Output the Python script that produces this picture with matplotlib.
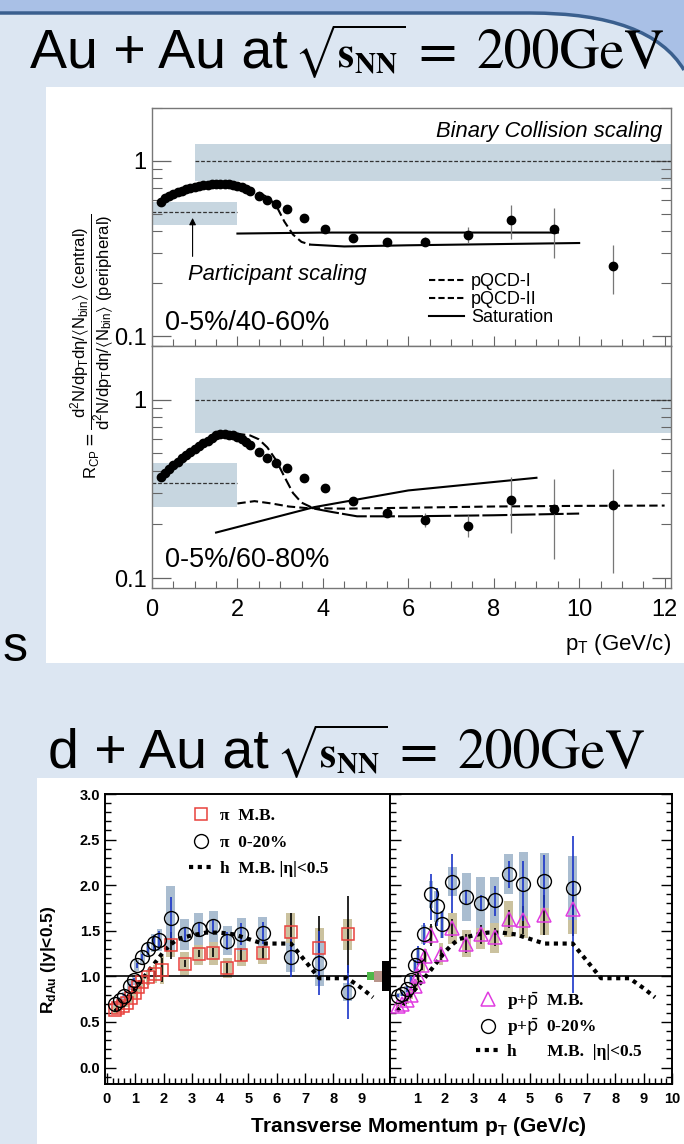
import matplotlib.pyplot as plt
from matplotlib.patches import Rectangle, PathPatch
from matplotlib.path import Path
from matplotlib.lines import Line2D
from matplotlib.ticker import MultipleLocator, FixedLocator, NullFormatter

W, H = 684, 1144

# ---------------- Au+Au R_CP (top figure) ----------------
# 0-5% / 40-60%
cp_mid_pt = [0.2, 0.3, 0.4, 0.5, 0.6, 0.7, 0.8, 0.9, 1.0, 1.1, 1.2, 1.3, 1.4, 1.5, 1.6,
             1.7, 1.8, 1.9, 2.0, 2.1, 2.2, 2.3, 2.5, 2.7, 2.9, 3.15, 3.55, 4.05, 4.7,
             5.5, 6.4, 7.4, 8.4, 9.4, 10.8]
cp_mid_r = [0.58, 0.61, 0.63, 0.645, 0.66, 0.675, 0.69, 0.70, 0.71, 0.72, 0.725, 0.73,
            0.735, 0.74, 0.74, 0.74, 0.735, 0.73, 0.72, 0.71, 0.69, 0.67, 0.63, 0.60,
            0.565, 0.53, 0.47, 0.41, 0.365, 0.346, 0.346, 0.378, 0.46, 0.41, 0.253]
cp_mid_err = [0] * 22 + [0, 0, 0, 0, 0, 0, 0.01, 0.01, 0.02, 0.04, 0.10, 0.13, 0.08]

# 0-5% / 60-80%
cp_per_pt = cp_mid_pt
cp_per_r = [0.37, 0.39, 0.41, 0.43, 0.45, 0.47, 0.49, 0.51, 0.53, 0.55, 0.57, 0.59,
            0.61, 0.63, 0.64, 0.64, 0.635, 0.63, 0.62, 0.60, 0.58, 0.56, 0.51, 0.47,
            0.44, 0.415, 0.364, 0.319, 0.271, 0.232, 0.213, 0.197, 0.273, 0.243, 0.257]
cp_per_err = [0] * 22 + [0, 0, 0, 0, 0, 0, 0.01, 0.01, 0.02, 0.028, 0.095, 0.115, 0.15]

# model curves, 40-60%
sat_mid_pt = [2.0, 4.0, 6.0, 8.0, 9.5]
sat_mid_r = [0.385, 0.39, 0.39, 0.39, 0.39]
pqcd_mid_pt = [2.5, 2.7, 2.9, 3.1, 3.3, 3.5, 3.7]
pqcd_mid_r = [0.66, 0.62, 0.56, 0.45, 0.38, 0.345, 0.333]
pqcd_mid_tail_pt = [3.7, 4.5, 6.0, 8.0, 10.0]
pqcd_mid_tail_r = [0.333, 0.325, 0.33, 0.335, 0.34]

# model curves, 60-80%
pqcd1_pt = [1.6, 2.0, 2.3, 2.5, 2.7, 2.9, 3.1, 3.3, 3.5, 3.8]
pqcd1_r = [0.64, 0.645, 0.63, 0.60, 0.54, 0.46, 0.37, 0.30, 0.265, 0.245]
pqcd1_tail_pt = [3.8, 4.2, 4.8, 6.0, 8.0, 10.0]
pqcd1_tail_r = [0.245, 0.235, 0.222, 0.222, 0.225, 0.23]
pqcd2_pt = [2.0, 2.4, 2.8, 3.2, 3.6, 4.5, 6.0, 8.0, 10.0, 12.0]
pqcd2_r = [0.262, 0.27, 0.262, 0.252, 0.247, 0.245, 0.248, 0.252, 0.254, 0.255]
sat_per_pt = [1.5, 3.8, 6.0, 9.0]
sat_per_r = [0.18, 0.25, 0.31, 0.365]

# scaling bands: (x0, x1, low, line, high)
binary_mid = (1.0, 12.15, 0.77, 1.0, 1.25)
part_mid = (0.0, 2.0, 0.43, 0.51, 0.58)
binary_per = (1.0, 12.15, 0.65, 1.0, 1.33)
part_per = (0.0, 2.0, 0.25, 0.34, 0.44)

# ---------------- d+Au R_dAu (bottom figure) ----------------
pi_mb_pt = [0.3, 0.4, 0.55, 0.7, 0.85, 1.0, 1.1, 1.25, 1.45, 1.7, 1.95, 2.25, 2.75,
            3.25, 3.75, 4.25, 4.75, 5.5, 6.5, 7.5, 8.5]
pi_mb_r = [0.63, 0.65, 0.67, 0.71, 0.76, 0.82, 0.88, 0.94, 0.99, 1.03, 1.07, 1.34,
           1.14, 1.25, 1.26, 1.09, 1.24, 1.26, 1.49, 1.31, 1.46]
pi_mb_err = [0.01, 0.01, 0.01, 0.01, 0.01, 0.01, 0.01, 0.02, 0.02, 0.03, 0.13, 0.15,
             0.04, 0.04, 0.05, 0.06, 0.07, 0.07, 0.21, 0.35, 0.42]
pi_mb_sys = [0.04, 0.04, 0.04, 0.05, 0.05, 0.06, 0.06, 0.07, 0.08, 0.10, 0.15, 0.13,
             0.13, 0.13, 0.14, 0.11, 0.13, 0.12, 0.20, 0.22, 0.17]

pi_c_pt = [0.3, 0.45, 0.6, 0.8, 0.95, 1.05, 1.25, 1.45, 1.65, 1.85, 2.25, 2.75, 3.25,
           3.75, 4.25, 4.75, 5.5, 6.5, 7.5, 8.5]
pi_c_r = [0.70, 0.74, 0.79, 0.90, 0.96, 1.12, 1.21, 1.30, 1.37, 1.40, 1.64, 1.46, 1.52,
          1.55, 1.39, 1.46, 1.48, 1.21, 1.15, 0.83]
pi_c_err = [0.01, 0.01, 0.01, 0.02, 0.02, 0.03, 0.04, 0.06, 0.08, 0.10, 0.23, 0.08,
            0.08, 0.08, 0.10, 0.12, 0.12, 0.22, 0.35, 0.30]
pi_c_sys = [0.03, 0.03, 0.04, 0.05, 0.05, 0.06, 0.07, 0.08, 0.10, 0.12, 0.35, 0.17,
            0.18, 0.17, 0.16, 0.18, 0.17, 0.16, 0.25, 0.10]

h_pt = [0.3, 0.5, 0.75, 1.0, 1.25, 1.5, 1.75, 2.0, 2.25, 2.5, 3.0, 3.5, 4.0, 4.5, 5.0,
        5.5, 6.0, 6.5, 7.0, 7.5, 8.0, 8.5, 9.0, 9.4]
h_r = [0.62, 0.68, 0.78, 0.88, 0.97, 1.07, 1.17, 1.27, 1.35, 1.41, 1.45, 1.48, 1.48,
       1.46, 1.41, 1.36, 1.36, 1.36, 1.17, 0.98, 0.98, 0.98, 0.87, 0.77]

pp_mb_pt = [0.35, 0.5, 0.65, 0.8, 0.95, 1.05, 1.2, 1.3, 1.5, 1.85, 2.25, 2.75, 3.25,
            3.75, 4.25, 4.75, 5.5, 6.5]
pp_mb_r = [0.68, 0.70, 0.74, 0.80, 0.90, 1.00, 1.12, 1.22, 1.45, 1.25, 1.53, 1.36,
           1.46, 1.43, 1.63, 1.62, 1.67, 1.74]
pp_mb_err = [0.01, 0.01, 0.02, 0.02, 0.03, 0.04, 0.05, 0.07, 0.12, 0.07, 0.10, 0.10,
             0.10, 0.10, 0.10, 0.15, 0.22, 0.30]
pp_mb_sys = [0.03, 0.03, 0.04, 0.05, 0.05, 0.06, 0.07, 0.08, 0.10, 0.12, 0.17, 0.15,
             0.16, 0.17, 0.20, 0.20, 0.22, 0.27]

pp_c_pt = [0.35, 0.5, 0.65, 0.8, 0.95, 1.05, 1.25, 1.5, 1.7, 1.9, 2.25, 2.75, 3.25,
           3.75, 4.25, 4.75, 5.5, 6.5]
pp_c_r = [0.79, 0.81, 0.86, 0.96, 1.12, 1.23, 1.46, 1.90, 1.77, 1.57, 2.04, 1.87, 1.81,
          1.84, 2.12, 2.01, 2.05, 1.97]
pp_c_lo = [0.02, 0.02, 0.03, 0.04, 0.06, 0.10, 0.12, 0.28, 0.22, 0.15, 0.35, 0.08,
           0.08, 0.18, 0.15, 0.40, 0.30, 1.15]
pp_c_hi = [0.02, 0.02, 0.03, 0.04, 0.06, 0.10, 0.12, 0.22, 0.20, 0.15, 0.30, 0.08,
           0.08, 0.15, 0.15, 0.25, 0.28, 0.57]
pp_c_sys = [0.03, 0.03, 0.04, 0.05, 0.06, 0.08, 0.10, 0.15, 0.17, 0.15, 0.16, 0.26,
            0.28, 0.25, 0.22, 0.35, 0.30, 0.35]

SLIDE = '#dce6f2'
BAND = '#c7d6e0'
RED = '#e8413c'
MAGENTA = '#e03ce0'
BLUE = '#1a35c8'
BOX_BLUE = '#aabdd0'
BOX_TAN = '#cbc29f'


def fx(px):
    return px / W


def fy(py):
    return 1 - py / H


fig = plt.figure(figsize=(W / 100, H / 100), dpi=100, facecolor=SLIDE)
renderer = fig.canvas.get_renderer()


def fig_patch(p):
    p.set_zorder(-10)
    fig.patches.append(p)


# slide header: light strip and dark rule that bends down on the right
fig_patch(Rectangle((0, fy(12)), 1, 12 / H, transform=fig.transFigure,
                    facecolor='#a9c0e6', edgecolor='none'))
corner = Path([(fx(530), fy(12)), (fx(650), fy(12)), (fx(684), fy(70)),
               (fx(684), fy(0)), (fx(530), fy(0)), (fx(530), fy(12))],
              [Path.MOVETO, Path.CURVE3, Path.CURVE3, Path.LINETO, Path.LINETO,
               Path.CLOSEPOLY])
fig_patch(PathPatch(corner, transform=fig.transFigure, facecolor='#a9c0e6',
                    edgecolor='none'))
rule = Path([(0, fy(13)), (fx(530), fy(13)), (fx(650), fy(13)), (fx(684), fy(70))],
            [Path.MOVETO, Path.LINETO, Path.CURVE3, Path.CURVE3])
fig_patch(PathPatch(rule, transform=fig.transFigure, facecolor='none',
                    edgecolor='#3a5f8e', lw=2.5))

# white picture panels
fig_patch(Rectangle((fx(46), fy(663)), 1, (663 - 87) / H, transform=fig.transFigure,
                    facecolor='white', edgecolor='none'))
fig_patch(Rectangle((fx(37), 0), 1, (H - 778) / H, transform=fig.transFigure,
                    facecolor='white', edgecolor='none'))


def title_line(baseline, lead):
    # sans lead-in, then the serif sqrt(s_NN) = 200GeV part, centred as one line
    parts = [(lead, dict(family='Liberation Sans', fontsize=40), 7),
             (r'$\sqrt{\mathbf{s}_{\mathbf{NN}}}$', dict(fontsize=30, math_fontfamily='stix'), 12),
             ('=', dict(family='STIXGeneral', fontsize=40), 20),
             ('200GeV', dict(family='STIXGeneral', fontsize=40), 0)]
    texts, widths = [], []
    for s, kw, gap in parts:
        t = fig.text(0, fy(baseline), s, ha='left', va='baseline', **kw)
        texts.append(t)
        widths.append(t.get_window_extent(renderer).width)
    total = sum(widths) + sum(p[2] for p in parts)
    x = 347 - total / 2
    for t, w, p in zip(texts, widths, parts):
        t.set_x(fx(x))
        x += w + p[2]


title_line(68, 'Au + Au at')
title_line(768, 'd + Au at')
fig.text(fx(3), fy(648), 's', ha='left', va='center', fontsize=36,
         family='Liberation Sans')

# ---------------- top figure ----------------
ax_top = fig.add_axes([fx(152), fy(346), fx(671) - fx(152), (346 - 108) / H])
ax_bot = fig.add_axes([fx(152), fy(588), fx(671) - fx(152), (588 - 346) / H],
                      sharex=ax_top)


def style_rcp(ax):
    ax.set_yscale('log')
    ax.set_ylim(0.088, 2.0)
    ax.set_xlim(0, 12.15)
    ax.set_facecolor('white')
    for s in ax.spines.values():
        s.set_color('#777777')
        s.set_linewidth(1.0)
    ax.yaxis.set_major_locator(FixedLocator([0.1, 1]))
    ax.yaxis.set_minor_locator(FixedLocator([0.2, 0.3, 0.4, 0.5, 0.6, 0.7, 0.8, 0.9, 2]))
    ax.yaxis.set_major_formatter(plt.FuncFormatter(lambda v, p: '1' if v == 1 else '0.1'))
    ax.yaxis.set_minor_formatter(NullFormatter())
    ax.xaxis.set_major_locator(MultipleLocator(2))
    ax.xaxis.set_minor_locator(MultipleLocator(0.5))
    ax.tick_params(axis='y', which='both', direction='in', left=True, right=True,
                   color='#666666', labelsize=17, pad=4)
    ax.tick_params(axis='y', which='major', length=14, width=0.9)
    ax.tick_params(axis='y', which='minor', length=7, width=0.8)
    ax.tick_params(axis='x', which='both', direction='in', top=False, color='#666666',
                   labelsize=17, pad=8)
    ax.tick_params(axis='x', which='major', length=7, width=0.8)
    ax.tick_params(axis='x', which='minor', length=5, width=0.8)


def bands(ax, binary, part):
    for x0, x1, lo, mid, hi in (binary, part):
        ax.fill_between([x0, x1], [lo, lo], [hi, hi], color=BAND, lw=0, zorder=1)
        ax.plot([x0, x1], [mid, mid], color='#333333', lw=0.9, ls=(0, (3, 1.5)),
                zorder=2)


style_rcp(ax_top)
style_rcp(ax_bot)
bands(ax_top, binary_mid, part_mid)
bands(ax_bot, binary_per, part_per)
ax_top.tick_params(axis='x', labelbottom=False)

# 40-60% panel
ax_top.plot(sat_mid_pt, sat_mid_r, color='black', lw=1.5, zorder=3)
ax_top.plot(pqcd_mid_pt, pqcd_mid_r, color='black', lw=1.5, ls=(0, (4, 2)), zorder=3)
ax_top.plot(pqcd_mid_tail_pt, pqcd_mid_tail_r, color='black', lw=1.5, zorder=3)
ax_top.errorbar(cp_mid_pt, cp_mid_r, yerr=cp_mid_err, fmt='o', color='black', ms=6,
                ecolor='#777777', elinewidth=0.9, capsize=0, zorder=4)
ax_top.text(11.95, 1.47, 'Binary Collision scaling', ha='right', va='center',
            fontsize=15.8, style='italic', family='Liberation Sans')
ax_top.text(0.85, 0.225, 'Participant scaling', ha='left', va='center', fontsize=15.8,
            style='italic', family='Liberation Sans')
ax_top.annotate('', xy=(0.95, 0.49), xytext=(0.95, 0.275),
                arrowprops=dict(arrowstyle='-|>', lw=0.8, color='black',
                                mutation_scale=10))
ax_top.text(0.3, 0.119, '0-5%/40-60%', ha='left', va='center', fontsize=19.5,
            family='Liberation Sans')
leg_handles = [Line2D([], [], color='black', lw=1.5, ls=(0, (3, 1.5))),
               Line2D([], [], color='black', lw=1.5, ls=(0, (3, 1.5))),
               Line2D([], [], color='black', lw=1.5)]
ax_top.legend(leg_handles, ['pQCD-I', 'pQCD-II', 'Saturation'], loc='lower left',
              bbox_to_anchor=(0.51, 0.03), frameon=False, handlelength=1.9,
              handletextpad=0.4, labelspacing=0.05, borderaxespad=0.3,
              prop={'family': 'Liberation Sans', 'size': 13})

# 60-80% panel
ax_bot.plot(pqcd1_pt, pqcd1_r, color='black', lw=1.5, ls=(0, (5, 2)), zorder=3)
ax_bot.plot(pqcd1_tail_pt, pqcd1_tail_r, color='black', lw=1.5, ls=(0, (12, 1.5)),
            zorder=3)
ax_bot.plot(pqcd2_pt, pqcd2_r, color='black', lw=1.5, ls=(0, (4, 2)), zorder=3)
ax_bot.plot(sat_per_pt, sat_per_r, color='black', lw=1.5, zorder=3)
ax_bot.errorbar(cp_per_pt, cp_per_r, yerr=cp_per_err, fmt='o', color='black', ms=6,
                ecolor='#777777', elinewidth=0.9, capsize=0, zorder=4)
ax_bot.text(0.3, 0.126, '0-5%/60-80%', ha='left', va='center', fontsize=19.5,
            family='Liberation Sans')
ax_bot.set_xlabel(r'p$_\mathregular{T}$ (GeV/c)', fontsize=16, family='Liberation Sans',
                  loc='right', labelpad=8)
ax_bot.set_xticks([0, 2, 4, 6, 8, 10, 12])
for ax in (ax_top, ax_bot):
    for lab in ax.get_xticklabels() + ax.get_yticklabels():
        lab.set_family('Liberation Sans')

fig.text(fx(92), fy(346),
         r'$\mathregular{R_{CP}} = \dfrac{\mathregular{d^2N/dp_Td\eta/\langle N_{bin}\rangle\ (central)}}'
         r'{\mathregular{d^2N/dp_Td\eta/\langle N_{bin}\rangle\ (peripheral)}}$',
         rotation=90, ha='center', va='center', fontsize=12,
         family='Liberation Sans', math_fontfamily='dejavusans')

# ---------------- bottom figure ----------------
ax_l = fig.add_axes([fx(105), fy(1084), fx(390) - fx(105), (1084 - 794) / H])
ax_r = fig.add_axes([fx(390), fy(1084), fx(672) - fx(390), (1084 - 794) / H])


def style_rdau(ax, xmin):
    ax.set_xlim(xmin, 10.0)
    ax.set_ylim(-0.18, 3.0)
    ax.set_facecolor('white')
    for s in ax.spines.values():
        s.set_color('black')
        s.set_linewidth(1.4)
    ax.xaxis.set_major_locator(MultipleLocator(1))
    ax.xaxis.set_minor_locator(MultipleLocator(0.2))
    ax.yaxis.set_major_locator(MultipleLocator(0.5))
    ax.yaxis.set_minor_locator(MultipleLocator(0.1))
    ax.tick_params(which='both', direction='in', left=True, right=True, top=False,
                   labelsize=10.5, width=1)
    ax.tick_params(axis='x', pad=6)
    ax.tick_params(which='major', length=8)
    ax.tick_params(which='minor', length=4)
    ax.axhline(1.0, color='black', lw=1.2, zorder=2)


def sys_boxes(ax, pts, vals, sys, color):
    for p, v, s in zip(pts, vals, sys):
        w = 0.32 if p > 2.0 else 0.16
        ax.add_patch(Rectangle((p - w / 2, v - s), w, 2 * s, facecolor=color,
                               edgecolor='none', zorder=1))


style_rdau(ax_l, -0.07)
style_rdau(ax_r, 0.06)
ax_l.tick_params(which='both', right=False)
ax_l.set_xticks(range(0, 10))
ax_l.yaxis.set_major_formatter(plt.FuncFormatter(lambda v, p: f'{v:.1f}'))
ax_r.set_xticks(range(1, 11))
ax_r.tick_params(labelleft=False)
for ax in (ax_l, ax_r):
    for lab in ax.get_xticklabels() + ax.get_yticklabels():
        lab.set_family('Liberation Sans')
        lab.set_fontweight('bold')

# pions
sys_boxes(ax_l, pi_mb_pt, pi_mb_r, pi_mb_sys, BOX_TAN)
sys_boxes(ax_l, pi_c_pt, pi_c_r, pi_c_sys, BOX_BLUE)
ax_l.errorbar(pi_mb_pt, pi_mb_r, yerr=pi_mb_err, fmt='none', ecolor='black',
              elinewidth=1.2, zorder=3)
ax_l.errorbar(pi_c_pt, pi_c_r, yerr=pi_c_err, fmt='none', ecolor=BLUE,
              elinewidth=1.2, zorder=3)
ax_l.plot(h_pt, h_r, color='black', lw=3, ls=(0, (1, 1.1)), zorder=4)
ax_l.plot(pi_mb_pt, pi_mb_r, 's', ms=9, mfc='none', mec=RED, mew=1.1, zorder=5)
ax_l.plot(pi_c_pt, pi_c_r, 'o', ms=10, mfc='none', mec='black', mew=1.0, zorder=5)

# normalisation boxes at unity
ax_l.add_patch(Rectangle((9.2, 0.955), 0.25, 0.09, facecolor='#4db848',
                         edgecolor='none', zorder=3))
ax_l.add_patch(Rectangle((9.45, 0.94), 0.25, 0.12, facecolor='#b8958a',
                         edgecolor='none', zorder=3))
ax_l.add_patch(Rectangle((9.7, 0.84), 0.3, 0.33, facecolor='black',
                         edgecolor='none', zorder=3))

leg_prop = {'family': 'Liberation Serif', 'weight': 'bold', 'size': 12.5}
leg_l = [Line2D([], [], ls='none', marker='s', ms=9, mfc='none', mec=RED, mew=1.1),
         Line2D([], [], ls='none', marker='o', ms=10, mfc='none', mec='black', mew=1.0),
         Line2D([], [], color='black', lw=3, ls=(0, (1, 1.1)))]
ax_l.legend(leg_l, ['\u03c0  M.B.', '\u03c0  0-20%', 'h  M.B. |\u03b7|<0.5'],
            loc='upper left', bbox_to_anchor=(0.27, 0.975), frameon=False,
            handlelength=1.4, handletextpad=0.4, labelspacing=0.6,
            borderaxespad=0, prop=leg_prop)

# protons
sys_boxes(ax_r, pp_mb_pt, pp_mb_r, pp_mb_sys, BOX_TAN)
sys_boxes(ax_r, pp_c_pt, pp_c_r, pp_c_sys, BOX_BLUE)
ax_r.errorbar(pp_mb_pt, pp_mb_r, yerr=pp_mb_err, fmt='none', ecolor='black',
              elinewidth=1.2, zorder=3)
ax_r.errorbar(pp_c_pt, pp_c_r, yerr=[pp_c_lo, pp_c_hi], fmt='none', ecolor=BLUE,
              elinewidth=1.2, zorder=3)
ax_r.plot(h_pt, h_r, color='black', lw=3, ls=(0, (1, 1.1)), zorder=4)
ax_r.plot(pp_mb_pt, pp_mb_r, '^', ms=10, mfc='none', mec=MAGENTA, mew=1.1, zorder=5)
ax_r.plot(pp_c_pt, pp_c_r, 'o', ms=10, mfc='none', mec='black', mew=1.0, zorder=5)

leg_r = [Line2D([], [], ls='none', marker='^', ms=10, mfc='none', mec=MAGENTA, mew=1.1),
         Line2D([], [], ls='none', marker='o', ms=10, mfc='none', mec='black', mew=1.0),
         Line2D([], [], color='black', lw=3, ls=(0, (1, 1.1)))]
ax_r.legend(leg_r, [r'p+$\bar{\mathrm{p}}$  M.B.', r'p+$\bar{\mathrm{p}}$  0-20%',
                    'h       M.B.  |\u03b7|<0.5'],
            loc='lower left', bbox_to_anchor=(0.28, 0.06), frameon=False,
            handlelength=1.4, handletextpad=0.4, labelspacing=0.3,
            borderaxespad=0, prop=leg_prop)

fig.text(fx(48), fy(960), r'R$_\mathregular{dAu}$ (|y|<0.5)', rotation=90,
         ha='center', va='center', fontsize=12.5, fontweight='bold',
         family='Liberation Sans')
fig.text(fx(418), fy(1126), r'Transverse Momentum p$_\mathregular{T}$ (GeV/c)',
         ha='center', va='center', fontsize=15, fontweight='bold',
         family='Liberation Sans')

fig.savefig('out.png', dpi=100, facecolor=SLIDE)
